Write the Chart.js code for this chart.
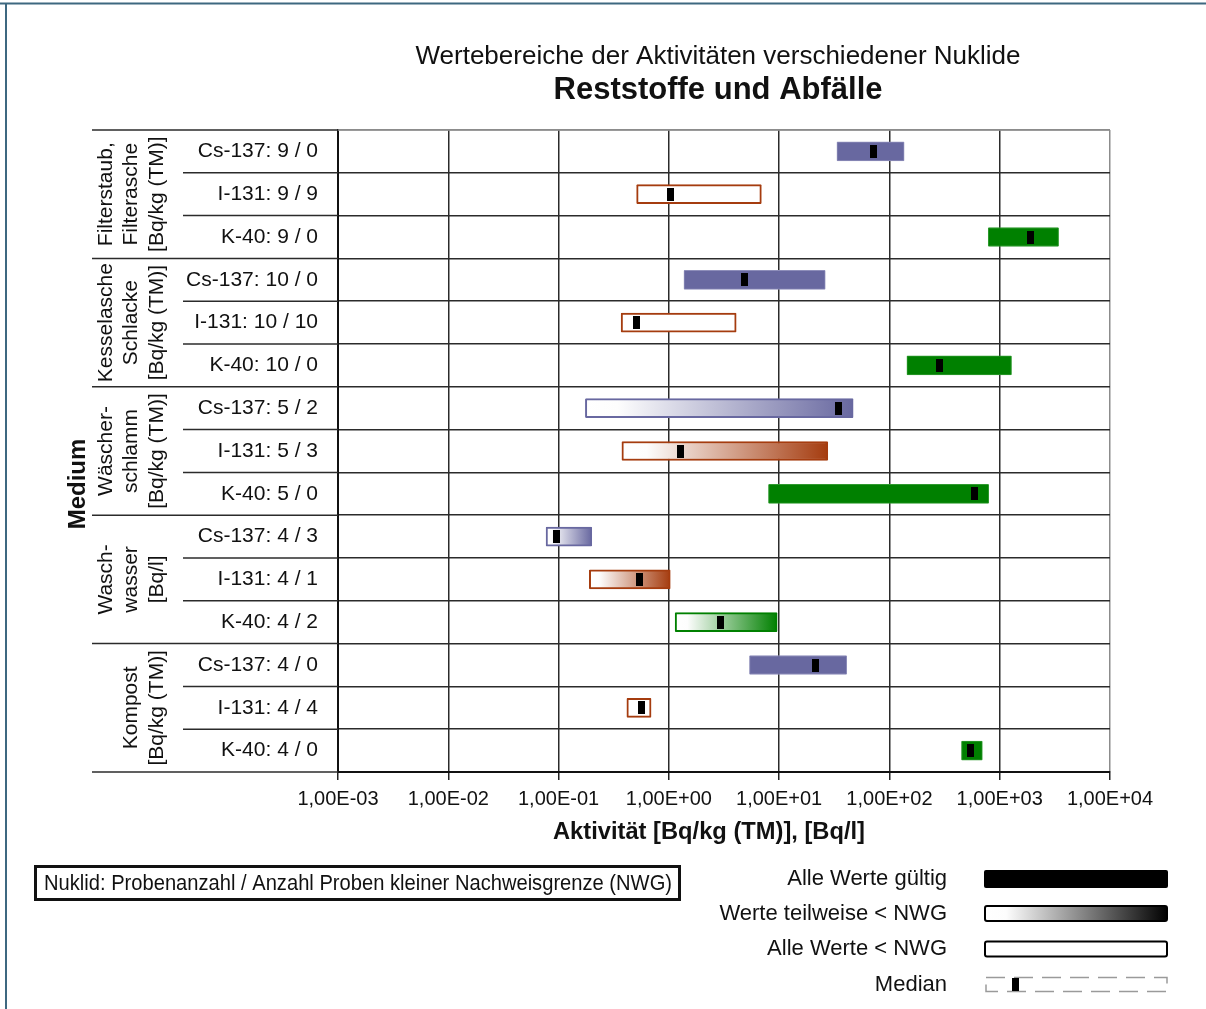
<!DOCTYPE html>
<html><head><meta charset="utf-8">
<script src="https://cdn.jsdelivr.net/npm/chart.js@4/dist/chart.umd.min.js"></script>
<style>html,body{margin:0;padding:0;background:#fff;overflow:hidden}canvas{display:block}</style>
</head><body>
<canvas id="c" width="1206" height="1009"></canvas>
<script>
// ---------- data ----------
const titleLine1 = 'Wertebereiche der Aktivitäten verschiedener Nuklide';
const titleLine2 = 'Reststoffe und Abfälle';
const xAxisTitle = 'Aktivität [Bq/kg (TM)], [Bq/l]';
const yAxisTitle = 'Medium';
const groupLabels = [
  ['Filterstaub,', 'Filterasche', '[Bq/kg (TM)]'],
  ['Kesselasche', 'Schlacke', '[Bq/kg (TM)]'],
  ['Wäscher-', 'schlamm', '[Bq/kg (TM)]'],
  ['Wasch-', 'wasser', '[Bq/l]'],
  ['Kompost', '[Bq/kg (TM)]']
];
const groupSizes = [3, 3, 3, 3, 3];
const nuclides = ['Cs-137','I-131','K-40','Cs-137','I-131','K-40','Cs-137','I-131','K-40','Cs-137','I-131','K-40','Cs-137','I-131','K-40'];
const sampleCounts = [9, 9, 9, 10, 10, 10, 5, 5, 5, 4, 4, 4, 4, 4, 4];
const nwgCounts    = [0, 9, 0, 0, 10, 0, 2, 3, 0, 3, 1, 2, 0, 4, 0];
const minValues    = [33.4, 0.51, 787, 1.37, 0.369, 144, 0.175, 0.375, 8.0, 0.077, 0.19, 1.14, 5.38, 0.416, 450];
const maxValues    = [136, 6.9, 3420, 26.2, 4.08, 1280, 46.9, 27.6, 795, 0.2, 1.03, 9.6, 41, 0.69, 696];
const medianValues = [71.8, 1.04, 1900, 4.84, 0.514, 284, 34.3, 1.28, 593, 0.0953, 0.546, 2.92, 21.3, 0.565, 538];
const tickValues = [1e-3, 1e-2, 1e-1, 1e0, 1e1, 1e2, 1e3, 1e4];
const tickLabels = ['1,00E-03','1,00E-02','1,00E-01','1,00E+00','1,00E+01','1,00E+02','1,00E+03','1,00E+04'];
const legendNote = 'Nuklid: Probenanzahl / Anzahl Proben kleiner Nachweisgrenze (NWG)';
const legendItems = ['Alle Werte gültig', 'Werte teilweise < NWG', 'Alle Werte < NWG', 'Median'];

// ---------- styles ----------
const nuclideColor = { 'Cs-137': '#6868a0', 'I-131': '#a53c0f', 'K-40': '#008000' };
const nuclideEdge  = { 'Cs-137': '#8e8eba', 'I-131': '#b85a30', 'K-40': '#2f9a2f' };
const FONT = "'Liberation Sans', Arial, sans-serif";
Chart.defaults.font.family = FONT;
Chart.defaults.color = '#111';

const labels = nuclides.map((n, i) => `${n}: ${sampleCounts[i]} / ${nwgCounts[i]}`);
const status = i => nwgCounts[i] === 0 ? 'valid' : (nwgCounts[i] >= sampleCounts[i] ? 'none' : 'partial');

const medImg = document.createElement('canvas');
medImg.width = 7; medImg.height = 13;
(() => { const m = medImg.getContext('2d'); m.fillStyle = '#000'; m.fillRect(0, 0, 7, 13); })();

function barFill(c) {
  const i = c.dataIndex;
  const col = nuclideColor[nuclides[i]];
  const st = status(i);
  if (st === 'valid') return col;
  if (st === 'none') return '#ffffff';
  const xs = c.chart.scales && c.chart.scales.x;
  if (!xs || !c.chart.chartArea) return col;
  const g = c.chart.ctx.createLinearGradient(xs.getPixelForValue(minValues[i]), 0, xs.getPixelForValue(maxValues[i]), 0);
  g.addColorStop(0, '#ffffff');
  g.addColorStop(0.12, '#fdfdfd');
  g.addColorStop(1, col);
  return g;
}

const decor = {
  id: 'decor',
  afterDraw(chart) {
    const { ctx, scales: { x, y } } = chart;
    ctx.save();
    // frame of picture
    ctx.strokeStyle = '#3e6880'; ctx.lineWidth = 2;
    ctx.beginPath(); ctx.moveTo(0, 3.5); ctx.lineTo(1206, 3.5); ctx.moveTo(6, 3); ctx.lineTo(6, 1009); ctx.stroke();

    // row separators into the label column
    const groupBounds = [0]; groupSizes.forEach(s => groupBounds.push(groupBounds[groupBounds.length - 1] + s));
    ctx.strokeStyle = '#2b2b2b'; ctx.lineWidth = 1.5;
    for (let i = 0; i <= labels.length; i++) {
      const yy = y.getPixelForValue(i - 0.5);
      const isGroup = groupBounds.includes(i);
      ctx.beginPath(); ctx.moveTo(isGroup ? 92 : 183, yy); ctx.lineTo(x.left, yy); ctx.stroke();
    }
    // top frame of plot (grey)
    ctx.strokeStyle = '#8c8c8c'; ctx.lineWidth = 1.5;
    ctx.beginPath(); ctx.moveTo(x.left, chart.chartArea.top); ctx.lineTo(x.right, chart.chartArea.top); ctx.stroke();

    ctx.fillStyle = '#111';
    // titles
    ctx.textAlign = 'center'; ctx.textBaseline = 'middle';
    ctx.font = `26px ${FONT}`;
    ctx.fillText(titleLine1, 718, 57, 612);
    ctx.font = `bold 31px ${FONT}`;
    ctx.fillText(titleLine2, 718, 90, 332);
    // x axis title
    ctx.font = `bold 24px ${FONT}`;
    ctx.fillText(xAxisTitle, 709, 832, 312);

    // rotated group labels
    ctx.font = `21px ${FONT}`;
    groupLabels.forEach((lines, g) => {
      const y0 = y.getPixelForValue(groupBounds[g] - 0.5);
      const y1 = y.getPixelForValue(groupBounds[g + 1] - 0.5);
      const cy = (y0 + y1) / 2;
      lines.forEach((t, k) => {
        const cx = 156 - (lines.length - 1 - k) * 25.5;
        ctx.save(); ctx.translate(cx, cy); ctx.rotate(-Math.PI / 2);
        ctx.fillText(t, 0, 1); ctx.restore();
      });
    });
    // Medium
    ctx.font = `bold 24px ${FONT}`;
    ctx.save(); ctx.translate(78, 484); ctx.rotate(-Math.PI / 2); ctx.fillText(yAxisTitle, 0, 0); ctx.restore();

    // note box
    ctx.strokeStyle = '#111'; ctx.lineWidth = 3;
    ctx.strokeRect(35.5, 866.5, 644, 33);
    ctx.font = `22px ${FONT}`;
    ctx.fillText(legendNote, 358, 884, 628);

    // right legend
    ctx.textAlign = 'right';
    ctx.font = `22px ${FONT}`;
    const ly = [879, 914, 949, 985];
    legendItems.forEach((t, k) => ctx.fillText(t, 947, ly[k]));
    const sx = 984, sw = 184;
    // valid
    ctx.fillStyle = '#000';
    ctx.beginPath(); ctx.roundRect(sx, 870, sw, 18, 2); ctx.fill();
    // partial
    const g = ctx.createLinearGradient(sx, 0, sx + sw, 0);
    g.addColorStop(0, '#ffffff'); g.addColorStop(0.12, '#fdfdfd'); g.addColorStop(1, '#000000');
    ctx.fillStyle = g; ctx.lineWidth = 2; ctx.strokeStyle = '#000';
    ctx.beginPath(); ctx.roundRect(sx + 1, 906, sw - 2, 15, 2); ctx.fill(); ctx.stroke();
    // none
    ctx.fillStyle = '#fff';
    ctx.beginPath(); ctx.roundRect(sx + 1, 941.5, sw - 2, 15, 2); ctx.fill(); ctx.stroke();
    // median
    ctx.setLineDash([19, 9]); ctx.strokeStyle = '#9a9a9a'; ctx.lineWidth = 1.5;
    ctx.strokeRect(sx + 2, 977.5, sw - 3, 14);
    ctx.setLineDash([]);
    ctx.fillStyle = '#000'; ctx.fillRect(1012, 978, 7, 13);
    ctx.restore();
  }
};

new Chart(document.getElementById('c'), {
  type: 'bar',
  data: {
    labels,
    datasets: [
      {
        type: 'line', label: 'Median', data: medianValues, indexAxis: 'y',
        showLine: false, pointStyle: medImg, pointRadius: 6, order: 0
      },
      {
        type: 'bar', label: 'Bereich', indexAxis: 'y',
        data: minValues.map((v, i) => [v, maxValues[i]]),
        barThickness: 19, borderSkipped: false, borderRadius: 1,
        backgroundColor: barFill,
        borderColor: c => status(c.dataIndex) === 'valid' ? nuclideEdge[nuclides[c.dataIndex]] : nuclideColor[nuclides[c.dataIndex]],
        borderWidth: c => status(c.dataIndex) === 'valid' ? 1 : 2,
        order: 1
      }
    ]
  },
  options: {
    indexAxis: 'y',
    responsive: false,
    animation: false,
    events: [],
    layout: { padding: { top: 130, right: 96, left: 0, bottom: 0 } },
    plugins: { legend: { display: false }, tooltip: { enabled: false }, title: { display: false } },
    scales: {
      x: {
        type: 'logarithmic', position: 'bottom', min: tickValues[0], max: tickValues[tickValues.length - 1],
        afterBuildTicks: s => { s.ticks = tickValues.map(v => ({ value: v })); },
        afterFit: s => { s.height = 237; },
        ticks: { callback: (v, i) => tickLabels[i], font: { size: 20 }, color: '#111', padding: 7, maxRotation: 0, autoSkip: false },
        grid: { color: c => (c.tick && c.tick.value === 1e4) ? '#8c8c8c' : '#2b2b2b', lineWidth: 1.5, tickLength: 8, tickColor: '#222', drawTicks: true },
        border: { display: true, color: '#111', width: 2 }
      },
      y: {
        type: 'category', position: 'left', offset: true,
        afterFit: s => { s.width = 338; },
        ticks: { font: { size: 21 }, color: '#111', padding: 20, autoSkip: false },
        grid: { offset: true, color: c => (c.tick && c.index === 0) ? '#8c8c8c' : '#2b2b2b', lineWidth: 1.5, drawTicks: false },
        border: { display: true, color: '#111', width: 2 }
      }
    }
  },
  plugins: [decor]
});
</script>
</body></html>
